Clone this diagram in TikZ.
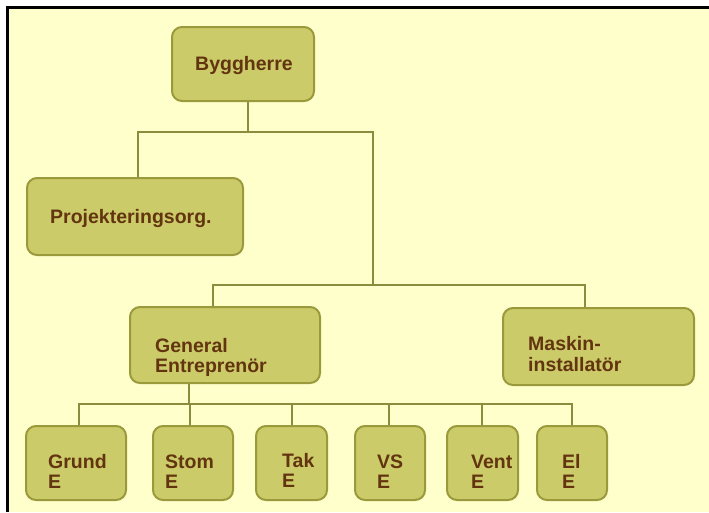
\documentclass[tikz,border=0pt]{standalone}
\usepackage{fontspec}
\setmainfont{Liberation Sans}
\definecolor{paper}{HTML}{FFFFCC}
\definecolor{boxfill}{HTML}{CBCB69}
\definecolor{boxedge}{HTML}{9A9A3C}
\definecolor{wire}{HTML}{8C8C3E}
\definecolor{ink}{HTML}{633410}
\newcommand{\twolines}[3]{\vtop{\baselineskip=#3pt\hbox{#1}\hbox{#2}}}
\tikzset{
  orgbox/.style={draw=boxedge, fill=boxfill, line width=2pt, rounded corners=10pt,
                 inner sep=0pt, rectangle},
  lbl/.style={anchor=base west, inner sep=0pt, text=ink,
              font=\fontsize{19.5}{20}\selectfont\bfseries},
  conn/.style={draw=wire, line width=2pt},
}
\begin{document}
\begin{tikzpicture}[x=1pt, y=-1pt]
  \useasboundingbox (0,0) rectangle (709,512);
  % page and frame
  \fill[white] (0,0) rectangle (709,512);
  \fill[paper] (6,6) rectangle (709,512);
  \draw[black, line width=3pt] (7.5,512) -- (7.5,7.5) -- (709,7.5);

  % boxes
  \node[orgbox, minimum width=142pt, minimum height=74pt] (byg)   at (243,64)    {};
  \node[orgbox, minimum width=216pt, minimum height=77pt] (proj)  at (135,216.5) {};
  \node[orgbox, minimum width=190pt, minimum height=76pt] (ge)    at (225,345)   {};
  \node[orgbox, minimum width=191pt, minimum height=77pt] (mi)    at (598.5,346.5) {};
  \node[orgbox, minimum width=100pt, minimum height=74pt] (grund) at (76,463)    {};
  \node[orgbox, minimum width=80pt,  minimum height=74pt] (stom)  at (193,463)   {};
  \node[orgbox, minimum width=71pt,  minimum height=74pt] (tak)   at (291.5,463) {};
  \node[orgbox, minimum width=70pt,  minimum height=74pt] (vs)    at (390,463)   {};
  \node[orgbox, minimum width=71pt,  minimum height=74pt] (vent)  at (482.5,463) {};
  \node[orgbox, minimum width=70pt,  minimum height=74pt] (el)    at (572,463)   {};

  % labels
  \node[lbl] (tbyg)   at (195,70)  {Byggherre};
  \node[lbl] (tproj)  at (50,223)  {Projekteringsorg.};
  \node[lbl] (tge)    at (155,352) {\twolines{General}{Entreprenör}{20}};
  \node[lbl] (tmi)    at (528,350) {\twolines{Maskin-}{installatör}{21}};
  \node[lbl] (tgrund) at (48,468)  {\twolines{Grund}{E}{20}};
  \node[lbl] (tstom)  at (165,468) {\twolines{Stom}{E}{20}};
  \node[lbl] (ttak)   at (282,467) {\twolines{Tak}{E}{20}};
  \node[lbl] (tvs)    at (377,468) {\twolines{VS}{E}{20}};
  \node[lbl] (tvent)  at (471,468) {\twolines{Vent}{E}{20}};
  \node[lbl] (tel)    at (562,468) {\twolines{El}{E}{20}};

  % junctions of the connector lines
  \coordinate (h1L) at (138,132);
  \coordinate (h1M) at (248,132);
  \coordinate (h1R) at (373,132);
  \coordinate (h2L) at (213,285);
  \coordinate (h2M) at (373,285);
  \coordinate (h2R) at (585,285);
  \coordinate (h3L) at (79,404);
  \coordinate (h3M) at (189,404);
  \coordinate (d2)  at (190,404);
  \coordinate (d3)  at (292,404);
  \coordinate (d4)  at (389,404);
  \coordinate (d5)  at (482,404);
  \coordinate (h3R) at (572,404);

  % connectors
  \draw[conn] (byg.south -| h1M) -- (h1M);
  \draw[conn] (proj.north -| h1L) -- (h1L) -- (h1R) -- (h2M);
  \draw[conn] (ge.north -| h2L) -- (h2L) -- (h2R) -- (mi.north -| h2R);
  \draw[conn] (ge.south -| h3M) -- (h3M);
  \draw[conn] (grund.north -| h3L) -- (h3L) -- (h3R) -- (el.north -| h3R);
  \draw[conn] (d2) -- (stom.north -| d2);
  \draw[conn] (d3) -- (tak.north -| d3);
  \draw[conn] (d4) -- (vs.north -| d4);
  \draw[conn] (d5) -- (vent.north -| d5);
\end{tikzpicture}
\end{document}
